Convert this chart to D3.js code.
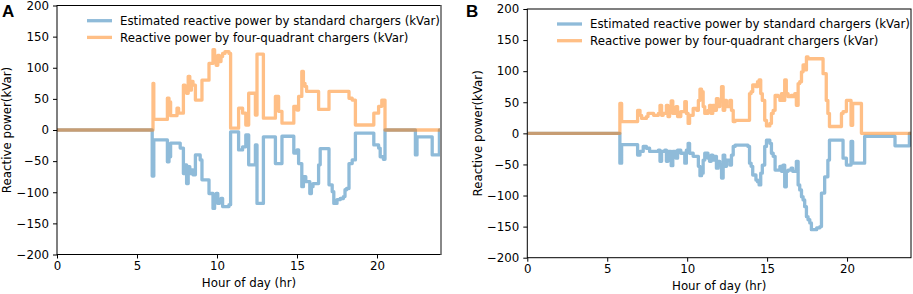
<!DOCTYPE html>
<html>
<head>
<meta charset="utf-8">
<script src="https://cdn.jsdelivr.net/npm/d3@7"></script>
<style>
  body { margin: 0; background: #fff; }
  svg text { font-family: "DejaVu Sans", sans-serif; fill: #000; }
</style>
</head>
<body>
<svg id="chart" width="913" height="294"></svg>
<script>
// x ticks / y ticks
const xTicks = [0, 5, 10, 15, 20];
const yTicks = [-200, -150, -100, -50, 0, 50, 100, 150, 200];
const legendLabels = [
  "Estimated reactive power by standard chargers (kVar)",
  "Reactive power by four-quadrant chargers (kVar)"
];

// panel A - four-quadrant chargers
const aQ4Hours = [0, 6.0, 6.05, 6.9, 7.0, 7.1, 7.5, 7.6, 7.9, 8.0, 8.1, 8.2, 8.3, 8.4, 8.5, 8.65, 9.06, 9.5, 9.75,
  9.85, 9.95, 10.05, 10.15, 10.25, 10.35, 10.5, 10.75, 10.85, 11.35, 11.6, 11.8, 11.98, 12.4, 12.5, 12.9,
  13.65, 13.85, 14.06, 14.8, 15.0, 15.1, 15.3, 15.4, 15.5, 15.6, 16.35, 17.0, 18.25, 18.45, 18.65, 19.8,
  20.1, 20.3, 20.5, 24];
const aQ4 = [0, 75, 17, 51, 45, 23, 35, 27, 72, 67, 59, 86, 64, 78, 72, 48, 80, 107, 129,
  112, 104, 120, 110, 118, 123, 126, 123, 3, 35, 27, 8, 59, 24, 122, 19,
  54, 30, 11, 38, 32, 54, 94, 75, 70, 62, 33, 62, 51, 48, 8, 27,
  38, 48, 0, 0];

// panel A - standard chargers
const aStdHours = [0, 5.95, 6.05, 6.9, 7.0, 7.1, 7.7, 7.9, 8.0, 8.1, 8.2, 8.3, 8.4, 8.5, 8.65, 8.95, 9.06, 9.5,
  9.75, 9.85, 9.95, 10.05, 10.15, 10.25, 10.35, 10.75, 10.85, 11.35, 11.6, 11.8, 11.98, 12.4, 12.5, 12.9,
  13.65, 14.06, 14.8, 15.0, 15.1, 15.3, 15.4, 15.55, 15.8, 15.9, 16.0, 16.35, 16.45, 17.0, 17.2, 17.3,
  17.5, 17.7, 17.9, 18.0, 18.1, 18.25, 18.45, 18.65, 19.8, 20.1, 20.2, 20.4, 20.5, 22.4, 22.5, 23.45,
  23.9, 24];
const aStd = [0, -74, -16, -51, -43, -21, -29, -70, -56, -86, -59, -70, -64, -72, -40, -48, -80, -102,
  -126, -107, -102, -118, -112, -110, -123, -120, -3, -32, -27, -8, -56, -24, -118, -11,
  -54, -10, -37, -32, -54, -91, -75, -83, -102, -91, -86, -56, -30, -88, -99, -118,
  -112, -110, -107, -96, -94, -54, -48, -5, -24, -29, -43, -47, 0, -40, -11, -40,
  0, 0];

// panel B - four-quadrant chargers
const bQ4Hours = [0, 5.79, 5.9, 6.9, 7.05, 7.15, 7.45, 7.55, 7.9, 8.2, 8.3, 8.4, 8.5, 8.7, 8.8, 8.9, 9.0, 9.1,
  9.3, 9.4, 9.6, 9.85, 9.95, 10.06, 10.15, 10.375, 10.6, 10.7, 10.8, 10.9, 11.0, 11.1, 11.3, 11.4, 11.5,
  11.6, 11.7, 11.83, 11.94, 12.04, 12.15, 12.25, 12.35, 12.46, 12.67, 12.77, 12.88, 13.0, 13.9, 14.0,
  14.1, 14.3, 14.4, 14.5, 14.6, 14.7, 14.85, 14.96, 15.17, 15.27, 15.38, 15.5, 15.7, 15.8, 15.9, 16.0,
  16.1, 16.2, 16.31, 16.5, 16.6, 16.73, 16.83, 16.94, 17.04, 17.15, 17.25, 17.35, 17.46, 17.56, 18.5,
  18.7, 18.8, 18.9, 19.65, 19.75, 19.96, 20.25, 20.35, 20.9, 24];
const bQ4 = [0, 48, 19, 37, 29, 24, 27, 32, 29, 32, 45, 29, 32, 45, 27, 37, 52, 32,
  43, 27, 35, 51, 32, 16, 29, 40, 37, 53, 71, 67, 43, 32, 37, 45, 32,
  45, 37, 56, 43, 51, 75, 37, 53, 43, 53, 37, 19, 21, 64, 67,
  78, 75, 83, 86, 64, 53, 21, 12, 16, 32, 37, 61, 59, 53, 64, 53,
  86, 64, 59, 61, 59, 64, 45, 80, 83, 99, 110, 102, 123, 120, 96,
  53, 32, 11, 32, 35, 53, 13, 48, 0, 0];

// panel B - standard chargers
const bStdHours = [0, 5.79, 5.9, 6.9, 7.05, 7.25, 7.45, 7.65, 8.2, 8.3, 8.4, 8.6, 8.7, 8.8, 9.0, 9.1, 9.3, 9.4,
  9.6, 9.85, 9.95, 10.06, 10.15, 10.375, 10.7, 10.8, 10.9, 11.0, 11.1, 11.3, 11.4, 11.5, 11.6, 11.7,
  11.83, 11.94, 12.04, 12.15, 12.25, 12.35, 12.46, 12.67, 12.77, 12.88, 13.0, 13.8, 13.9, 14.0, 14.1,
  14.3, 14.4, 14.5, 14.6, 14.7, 14.85, 14.96, 15.17, 15.27, 15.38, 15.5, 15.8, 15.9, 16.0, 16.1, 16.2,
  16.31, 16.5, 16.6, 16.83, 16.94, 17.04, 17.15, 17.25, 17.35, 17.46, 17.56, 17.67, 17.77, 18.1, 18.3,
  18.4, 18.6, 18.8, 18.9, 19.75, 19.96, 20.25, 20.35, 21.1, 23.0, 23.9, 24];
const bStd = [0, -48, -18, -35, -29, -21, -24, -29, -27, -45, -29, -27, -45, -29, -52, -29, -40, -27,
  -32, -48, -27, -16, -32, -37, -53, -68, -64, -43, -32, -40, -45, -35, -43, -37,
  -56, -45, -51, -72, -35, -53, -43, -51, -35, -21, -19, -21, -48, -53, -67,
  -75, -78, -83, -64, -51, -21, -11, -16, -32, -37, -59, -53, -61, -51, -86, -61,
  -59, -56, -61, -45, -83, -91, -102, -107, -118, -134, -139, -144, -155, -152, -150,
  -96, -70, -43, -11, -40, -51, -13, -48, -5, -20, 0, 0];

const svg = d3.select("#chart");
const blue = "#1f77b4", orange = "#ff7f0e";
const fontSize = 11.8;

function drawPanel(p) {
  const x = d3.scaleLinear().domain([0, 24]).range([p.left, p.right]);
  const y = d3.scaleLinear().domain([-200, 200]).range([p.bottom, p.top]);
  const g = svg.append("g");

  g.append("clipPath").attr("id", "clip" + p.id)
    .append("rect")
    .attr("x", p.left).attr("y", p.top)
    .attr("width", p.right - p.left).attr("height", p.bottom - p.top);

  const line = d3.line()
    .x(d => x(d[0]))
    .y(d => y(d[1]))
    .curve(d3.curveStepAfter);

  const series = [
    { hours: p.stdHours, vals: p.std, color: blue },
    { hours: p.q4Hours, vals: p.q4, color: orange }
  ];
  series.forEach(s => {
    g.append("path")
      .datum(s.hours.map((h, i) => [h, s.vals[i]]))
      .attr("clip-path", `url(#clip${p.id})`)
      .attr("d", line)
      .attr("fill", "none")
      .attr("stroke", s.color)
      .attr("stroke-opacity", 0.5)
      .attr("stroke-width", 3.3)
      .attr("stroke-linejoin", "round");
  });

  // frame
  g.append("rect")
    .attr("x", p.left).attr("y", p.top)
    .attr("width", p.right - p.left).attr("height", p.bottom - p.top)
    .attr("fill", "none").attr("stroke", "#000").attr("stroke-width", 1);
  if (p.id === "A") {
    g.append("line")
      .attr("x1", p.right).attr("x2", p.right)
      .attr("y1", p.top).attr("y2", p.bottom)
      .attr("stroke", "#888").attr("stroke-width", 2);
  }

  const ax = g.append("g")
    .attr("transform", `translate(0,${p.bottom})`)
    .call(d3.axisBottom(x).tickValues(xTicks).tickSize(4).tickPadding(3));
  const ay = g.append("g")
    .attr("transform", `translate(${p.left},0)`)
    .call(d3.axisLeft(y).tickValues(yTicks).tickSize(4).tickPadding(4)
      .tickFormat(d => d < 0 ? "\u2212" + Math.abs(d) : d));
  [ax, ay].forEach(a => {
    a.select(".domain").remove();
    a.selectAll("text").attr("font-size", fontSize).attr("font-family", "DejaVu Sans");
    a.selectAll("line").attr("stroke", "#000");
  });

  g.append("text")
    .attr("x", (p.left + p.right) / 2).attr("y", p.xLabelY)
    .attr("text-anchor", "middle").attr("font-size", fontSize)
    .text("Hour of day (hr)");
  g.append("text")
    .attr("transform", `translate(${p.yLabelX},${(p.top + p.bottom) / 2}) rotate(-90)`)
    .attr("text-anchor", "middle").attr("font-size", fontSize)
    .text("Reactive power(kVar)");

  g.append("text")
    .attr("x", p.tagX).attr("y", 17)
    .style("font-family", "Liberation Sans, Arial, sans-serif")
    .attr("font-weight", "bold").attr("font-size", 17)
    .text(p.id);

  // legend
  [blue, orange].forEach((c, i) => {
    const ly = p.legendY + i * 16.7;
    g.append("line")
      .attr("x1", p.legendX).attr("x2", p.legendX + 25)
      .attr("y1", ly).attr("y2", ly)
      .attr("stroke", c).attr("stroke-opacity", 0.5).attr("stroke-width", 3.3);
    g.append("text")
      .attr("x", p.legendX + 33).attr("y", ly + 4.3)
      .attr("font-size", fontSize)
      .text(legendLabels[i]);
  });
}

drawPanel({
  id: "A", left: 57, right: 441, top: 5.5, bottom: 254.5,
  q4Hours: aQ4Hours, q4: aQ4, stdHours: aStdHours, std: aStd,
  xLabelY: 287, yLabelX: 10.5, tagX: 2, legendX: 87, legendY: 20.7
});
drawPanel({
  id: "B", left: 527.3, right: 911, top: 9, bottom: 257.7,
  q4Hours: bQ4Hours, q4: bQ4, stdHours: bStdHours, std: bStd,
  xLabelY: 290, yLabelX: 481.5, tagX: 466, legendX: 557, legendY: 24
});
</script>
</body>
</html>
